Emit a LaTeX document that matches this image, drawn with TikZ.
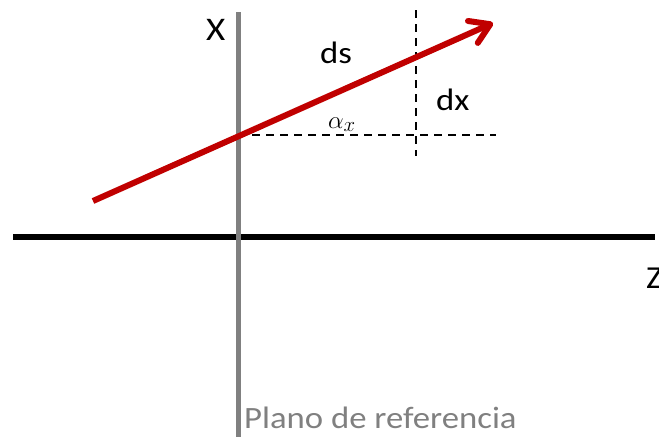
\documentclass[tikz,border=0pt]{standalone}
\usepackage{fontspec}
\setmainfont{Carlito}[FakeStretch=1.12]
\usetikzlibrary{arrows.meta}
\definecolor{vecred}{HTML}{C00000}
\definecolor{planogray}{HTML}{808080}
\begin{document}
\begin{tikzpicture}[x=1pt, y=-1pt,
        lbl/.style={inner sep=0pt, anchor=base west},
        guide/.style={black, line width=2pt, dash pattern=on 8pt off 6pt}]
\useasboundingbox (0,0) rectangle (659,437);
        \coordinate(Z0) at (13,237);
        \coordinate(Z1) at (655,237);
        \coordinate(P0) at (238,12);
        \coordinate(P1) at (238,437);
        \coordinate(H0) at (238,135);
        \coordinate(H1) at (496,135);
        \coordinate(V0) at (416,10);
        \coordinate(V1) at (416,156);
        \coordinate(S0) at (93,201);
        \coordinate(S1) at (493,23);
\draw[line width=6pt](Z0)--(Z1);
\draw[planogray, line width=5pt](P0)--(P1);
\draw[guide](H0)--(H1);
\draw[guide](V0)--(V1);
\draw[vecred, line width=6pt, -{Straight Barb[length=19pt,width=24pt,round]}](S0)--(S1);
        \node(X)[lbl, font=\fontsize{33}{33}\selectfont] at (206,40){X};
        \node(Z)[lbl, font=\fontsize{32}{32}\selectfont] at (646,288){Z};
        \node(ds)[lbl, font=\fontsize{31}{31}\selectfont] at (320,63){ds};
        \node(dx)[lbl, font=\fontsize{31}{31}\selectfont] at (436,110){dx};
        \node(alpha)[lbl, font=\fontsize{31}{31}\selectfont] at (328,128){$\alpha_x$};
        \node(plano)[lbl, planogray, font=\fontsize{31}{31}\selectfont] at (244,428){Plano de referencia};
    \end{tikzpicture}
\end{document}
